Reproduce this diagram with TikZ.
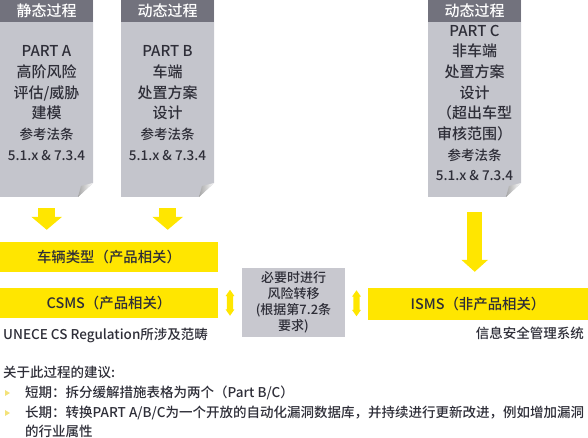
\documentclass[tikz,border=0pt]{standalone}
\usepackage{fontspec}
\setmainfont{Noto Sans CJK SC}[UprightFont=* Medium]
\usetikzlibrary{arrows.meta,shapes.arrows,calc}

\definecolor{eyyellow}{HTML}{FFE600}
\definecolor{cardgray}{HTML}{C4C5CC}
\definecolor{headgray}{HTML}{72727D}
\definecolor{boxgray}{HTML}{C8C8CF}
\definecolor{inkgray}{HTML}{2E2E38}
\definecolor{bulletyellow}{HTML}{F3E27A}

\newcommand\reftxt[1]{{\fontsize{13.5}{15}\selectfont #1}}

\begin{document}
\begin{tikzpicture}[x=1pt,y=-1pt,
  every node/.style={text=inkgray,inner sep=0pt},
  head/.style={fill=headgray,text=white,minimum width=93pt,minimum height=22pt,
    anchor=north west,font=\fontsize{15}{16}\selectfont},
  card text/.style={align=center,font=\fontsize{15}{20.7}\selectfont},
  bar/.style={fill=eyyellow,minimum height=30pt,font=\fontsize{14.4}{16}\selectfont},
  midbox/.style={fill=boxgray,minimum width=103pt,minimum height=69pt,align=center,
    font=\fontsize{13}{16}\selectfont},
  remark/.style={font=\fontsize{13.5}{16}\selectfont},
  flow/.style={eyyellow,line width=17pt,-{Triangle[width=30pt,length=13pt]}},
  link/.style={double arrow,fill=eyyellow,rotate=90,minimum height=26pt,inner xsep=0pt,
    inner ysep=3pt,double arrow head extend=1.2pt,double arrow tip angle=70}]

  \useasboundingbox (0,0) rectangle (588,438);

  \foreach \n/\x/\h in {pa/0/静态过程,pb/121/动态过程,pc/428/动态过程}{
    \fill[cardgray] (\x,0) -- (\x+93,0) -- (\x+93,183) -- (\x+78,197) -- (\x,197) -- cycle;
    \shade[left color=gray!70,right color=white] (\x+93,183) -- (\x+78,197) -- (\x+81,186) -- cycle;
    \node[head] at (\x,0) {\h};
    \node[minimum width=93pt,minimum height=197pt,anchor=north west] (\n) at (\x,0) {};
  }

  \node[card text] (ta) at (46.5,103) {PART A\\高阶风险\\评估/威胁\\建模\\\reftxt{参考法条}\\\reftxt{5.1.x \& 7.3.4}};
  \node[card text] (tb) at (167.5,103) {PART B\\车端\\处置方案\\设计\\\reftxt{参考法条}\\\reftxt{5.1.x \& 7.3.4}};
  \node[card text] (tc) at (474.5,103) {PART C\\非车端\\处置方案\\设计\\（超出车型\\审核范围）\\\reftxt{参考法条}\\\reftxt{5.1.x \& 7.3.4}};

  \node[bar,minimum width=218pt] (v1) at (109,257) {车辆类型（产品相关）};
  \node[bar,minimum width=218pt] (csms) at (109,303) {CSMS（产品相关）};
  \node[bar,minimum width=220pt,minimum height=32pt] (isms) at (478,304) {ISMS（非产品相关）};
  \node[midbox] (mid) at (293.5,302.5) {必要时进行\\风险转移\\(根据第7.2条\\要求)};

  \draw[flow,shorten <=11pt,shorten >=12pt] (pa.south) -- (pa.south |- v1.north);
  \draw[flow,shorten <=11pt,shorten >=12pt] (pb.south) -- (pb.south |- v1.north);
  \draw[flow,line width=15pt,-{Triangle[width=26pt,length=12pt]},shorten <=15pt,shorten >=16pt]
    (pc.south) -- (pc.south |- isms.north);

  \node[link] (l1) at ($(csms.east)!0.5!(mid.west)$) {};
  \node[link] (l2) at ($(mid.east)!0.5!(isms.west)$) {};

  \node[remark,anchor=west] (unece) at (3,335) {UNECE CS Regulation所涉及范畴};
  \node[remark,anchor=east] (isname) at (584,333) {信息安全管理系统};

  \node[remark,anchor=west] (adv) at (3,372) {关于此过程的建议:};
  \node[remark,anchor=west] (s1) at (25,393) {短期：拆分缓解措施表格为两个（Part B/C）};
  \node[remark,anchor=west] (s2) at (25,413) {长期：转换PART A/B/C为一个开放的自动化漏洞数据库，并持续进行更新改进，例如增加漏洞};
  \node[remark,anchor=west] (s3) at (25,431) {的行业属性};
  \foreach \b in {s1,s2}
    \fill[bulletyellow] ($(\b.west)+(-20,-3)$) -- ++(5,3) -- ++(-5,3) -- cycle;
\end{tikzpicture}
\end{document}
